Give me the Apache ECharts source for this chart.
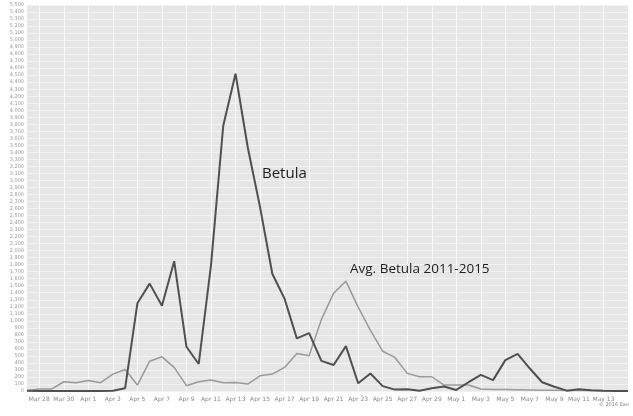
<!DOCTYPE html>
<html><head><meta charset="utf-8">
<script src="https://cdn.jsdelivr.net/npm/echarts@6/dist/echarts.min.js"></script>
<style>html,body{margin:0;padding:0;background:#fff}#c{width:633px;height:416px}</style>
</head><body><div id="c"></div>
<script>
const dates = ["Mar 27","Mar 28","Mar 29","Mar 30","Mar 31","Apr 1","Apr 2","Apr 3","Apr 4","Apr 5","Apr 6","Apr 7","Apr 8","Apr 9","Apr 10","Apr 11","Apr 12","Apr 13","Apr 14","Apr 15","Apr 16","Apr 17","Apr 18","Apr 19","Apr 20","Apr 21","Apr 22","Apr 23","Apr 24","Apr 25","Apr 26","Apr 27","Apr 28","Apr 29","Apr 30","May 1","May 2","May 3","May 4","May 5","May 6","May 7","May 8","May 9","May 10","May 11","May 12","May 13","May 14","May 15"];
const betula = [5,0,0,0,0,0,0,5,40,1250,1530,1215,1850,630,385,1790,3780,4520,3470,2620,1670,1315,750,825,430,370,640,110,250,70,20,25,5,40,65,15,125,230,155,440,530,320,125,60,5,25,10,2,0,0];
const avgBetula = [5,28,28,132,118,151,118,241,307,85,425,487,336,76,132,156,118,120,99,217,241,336,534,501,1017,1395,1565,1196,865,567,478,251,203,203,85,85,85,28,22,20,18,15,12,10,8,6,5,3,2,1];
const seriesNames = ["Betula","Avg. Betula 2011-2015"];
const yMin = 0, yMax = 5500, yStep = 100;

const chart = echarts.init(document.getElementById('c'));
const showIdx = (i) => i % 2 === 1 && i < dates.length - 1;
chart.setOption({
  animation: false,
  backgroundColor: '#ffffff',
  grid: {left: 27, right: 5, top: 5, bottom: 25, show: true, backgroundColor: '#e6e6e6', borderWidth: 0,
         containLabel: false, outerBoundsMode: 'none'},
  xAxis: {
    type: 'category', data: dates, boundaryGap: false,
    axisLine: {show: false}, axisTick: {show: false},
    axisLabel: {interval: (i) => showIdx(i), color: '#888', fontSize: 6, fontFamily: 'DejaVu Sans', margin: 5},
    splitLine: {show: true, interval: (i) => showIdx(i), lineStyle: {color: '#f8f8f8', width: 1}}
  },
  yAxis: {
    type: 'value', min: yMin, max: yMax, interval: yStep,
    name: 'Particles/m³', nameLocation: 'middle', nameGap: 20, nameRotate: 90,
    nameTextStyle: {fontSize: 5, color: '#777', fontFamily: 'DejaVu Sans'},
    axisLine: {show: false}, axisTick: {show: false},
    axisLabel: {color: '#999', fontSize: 5, fontFamily: 'DejaVu Sans', margin: 3,
      formatter: (v) => v.toLocaleString('en-US')},
    splitLine: {lineStyle: {color: '#f2f2f2', width: 1}}
  },
  series: [
    {name: seriesNames[1], type: 'line', data: avgBetula, symbol: 'none', z: 2,
     lineStyle: {color: '#9a9a9a', width: 1.5}},
    {name: seriesNames[0], type: 'line', data: betula, symbol: 'none', z: 3,
     lineStyle: {color: '#505050', width: 2}}
  ],
  graphic: [
    {type: 'text', left: 262, top: 166, z: 100, style: {text: seriesNames[0], font: '15px "Open Sans"', fill: '#222'}},
    {type: 'text', left: 350, top: 262, z: 100, style: {text: seriesNames[1], font: '13.5px "Open Sans"', fill: '#222'}},
    {type: 'text', right: 4, top: 402, z: 100, style: {text: '© 2016 Eae', font: '5px "DejaVu Sans"', fill: '#888'}}
  ]
});
</script></body></html>
